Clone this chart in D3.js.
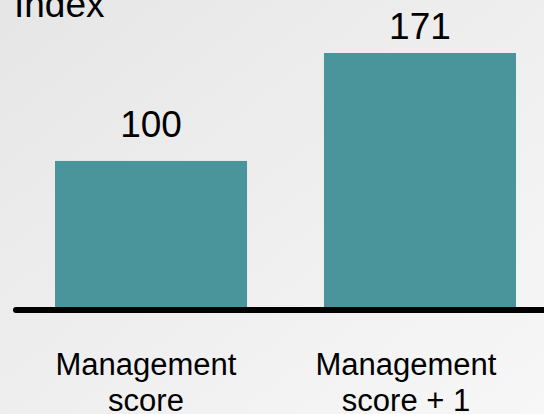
<!DOCTYPE html>
<html>
<head>
<meta charset="utf-8">
<script src="https://cdn.jsdelivr.net/npm/d3@7"></script>
<style>
  html, body { margin: 0; padding: 0; overflow: hidden; }
  svg { display: block; font-family: "Liberation Sans", Arial, sans-serif; }
</style>
</head>
<body>
<div id="chart"></div>
<script>
const categories = ["Management score", "Management score + 1"];
const labelLines = [["Management", "score"], ["Management", "score + 1"]];
const values = [100, 171];
const yTitle = "Index";

const width = 544, height = 414;

const svg = d3.select("#chart").append("svg")
  .attr("width", width)
  .attr("height", height);

const grad = svg.append("defs").append("linearGradient")
  .attr("id", "bg")
  .attr("x1", "0%").attr("y1", "0%")
  .attr("x2", "100%").attr("y2", "100%");
grad.append("stop").attr("offset", "0%").attr("stop-color", "#e6e6e6");
grad.append("stop").attr("offset", "100%").attr("stop-color", "#f7f7f7");

svg.append("rect")
  .attr("width", width)
  .attr("height", height)
  .attr("fill", "url(#bg)");

const x = d3.scaleBand()
  .domain(categories)
  .range([55, 516])
  .paddingInner(0.286)
  .paddingOuter(0);

// category labels sit a bit left of the bar centres in the original
const xLabel = d3.scalePoint()
  .domain(categories)
  .range([146, 406]);

const y = d3.scaleLinear()
  .domain([0, 171])
  .range([313, 53]);

// value labels: the top one is squeezed closer to its bar
const yLabel = d3.scaleLinear()
  .domain([100, 171])
  .range([137, 39]);

svg.selectAll("rect.bar")
  .data(values)
  .enter()
  .append("rect")
  .attr("class", "bar")
  .attr("fill", "#4a959c")
  .attr("x", (d, i) => x(categories[i]))
  .attr("y", (d) => y(d))
  .attr("width", x.bandwidth())
  .attr("height", (d) => y(0) - y(d));

svg.selectAll("text.value")
  .data(values)
  .enter()
  .append("text")
  .attr("class", "value")
  .attr("x", (d, i) => x(categories[i]) + x.bandwidth() / 2)
  .attr("y", (d) => yLabel(d))
  .attr("text-anchor", "middle")
  .attr("font-size", 37)
  .attr("fill", "#000")
  .text((d) => d);

// baseline
svg.append("line")
  .attr("x1", 16)
  .attr("x2", width + 10)
  .attr("y1", 310)
  .attr("y2", 310)
  .attr("stroke", "#000")
  .attr("stroke-width", 6)
  .attr("stroke-linecap", "round");

const labels = svg.selectAll("text.cat")
  .data(categories)
  .enter()
  .append("text")
  .attr("class", "cat")
  .attr("text-anchor", "middle")
  .attr("font-size", 31)
  .attr("fill", "#000");

labels.selectAll("tspan")
  .data((d, i) => labelLines[i].map((t) => ({ t, c: d })))
  .enter()
  .append("tspan")
  .attr("x", (d) => xLabel(d.c))
  .attr("y", (d, j) => 375 + j * 36)
  .text((d) => d.t);

svg.append("text")
  .attr("x", 14)
  .attr("y", 17)
  .attr("font-size", 37)
  .attr("fill", "#000")
  .text(yTitle);
</script>
</body>
</html>
